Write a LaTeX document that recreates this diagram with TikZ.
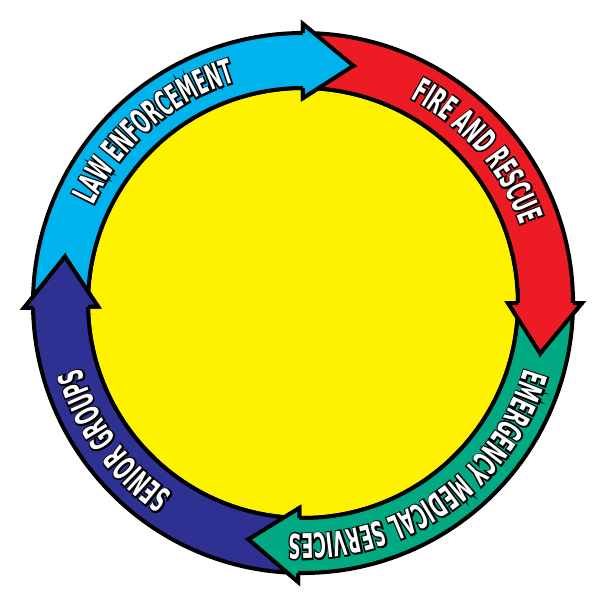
\documentclass[tikz,border=0pt]{standalone}
\usepackage{fontspec}
\usetikzlibrary{decorations.text}
\newfontfamily\lblfont{DejaVu Sans Condensed Bold}[FakeStretch=0.56]
\definecolor{lawblue}{HTML}{00B3EC}
\definecolor{firered}{HTML}{ED1C24}
\definecolor{emsgreen}{HTML}{00A982}
\definecolor{seniorblue}{HTML}{2E3192}
\definecolor{hubyellow}{HTML}{FFF200}
\newcommand\lblsize{\lblfont\fontsize{34}{34}\selectfont}
\newcommand\lblback{\lblsize\color{black}\special{pdf:literal direct 2 Tr 3 w}}
\newcommand\lblfront{\lblsize\color{white}\special{pdf:literal direct 0 Tr}}
\tikzset{
  ringpart/.style={draw=black, line width=4pt, line join=miter},
  ringlabel/.style={decorate, decoration={text along path, text align=center, text={#1}}}
}
% colour, tail angle, head angle
\newcommand\ringarrow[3]{%
  \filldraw[ringpart, fill=#1] (#2:270) arc[start angle=#2, end angle=#3, radius=270]
    -- (#3:279) -- ({#3-12}:242.5) -- (#3:205) -- (#3:215)
    arc[start angle=#3, end angle=#2, radius=215] -- ({#2-12}:242.5) -- cycle;}
\newcommand\ringhead[2]{%
  \fill[#1] (#2:279) -- ({#2-12}:242.5) -- (#2:205) -- cycle;
  \draw[ringpart] (#2:270) -- (#2:279) -- ({#2-12}:242.5) -- (#2:205) -- (#2:215);}
\newcommand\ringtext[2]{%
  \path[ringlabel={|\lblback|#2}] ({#1+55}:231) arc[start angle={#1+55}, end angle={#1-55}, radius=231];
  \path[ringlabel={|\lblfront|#2}] ({#1+55}:231) arc[start angle={#1+55}, end angle={#1-55}, radius=231];}
\begin{document}
\begin{tikzpicture}[x=1pt, y=1pt]
\useasboundingbox (-303,-297) rectangle (297,303);
\filldraw[fill=hubyellow, draw=black, line width=4pt] (0,0) circle[radius=215];
\ringarrow{lawblue}{181}{90}
\ringarrow{firered}{90}{0}
\ringarrow{emsgreen}{0}{-91}
\ringarrow{seniorblue}{-91}{-179}
\ringhead{lawblue}{90}
\ringhead{firered}{0}
\ringhead{emsgreen}{-91}
\ringhead{seniorblue}{-179}
\ringtext{131}{LAW ENFORCEMENT}
\ringtext{41}{FIRE AND RESCUE}
\ringtext{-55}{EMERGENCY MEDICAL SERVICES}
\ringtext{-144}{SENIOR GROUPS}
\end{tikzpicture}
\end{document}
